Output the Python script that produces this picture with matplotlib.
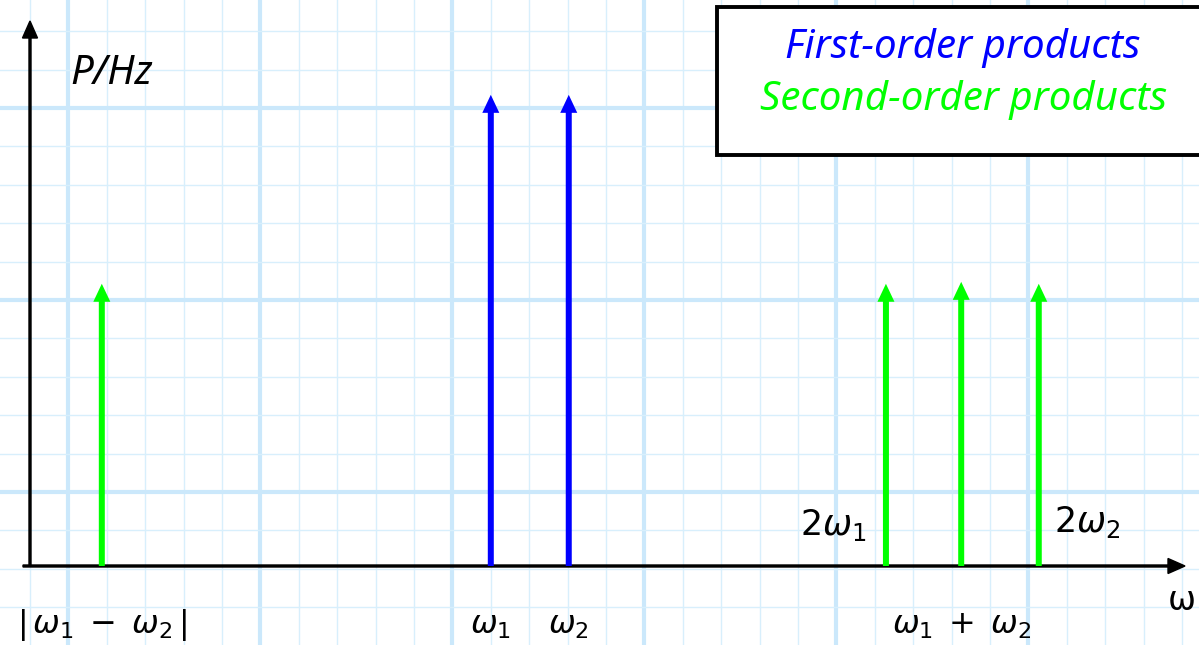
import numpy as np
import matplotlib
matplotlib.use("Agg")
import matplotlib.pyplot as plt
from matplotlib.patches import Rectangle

# Spectrum lines (x in grid squares from the power axis, height in grid squares)
names = ["|w1-w2|", "w1", "w2", "2w1", "w1+w2", "2w2"]
freqs = [1.87, 12.0, 14.03, 22.29, 24.25, 26.27]
powers = [7.35, 12.27, 12.27, 7.35, 7.4, 7.35]
orders = [2, 1, 1, 2, 2, 2]

below_labels = [r"$|\,\omega_1\;-\;\omega_2\,|$", r"$\omega_1$", r"$\omega_2$", "",
                r"$\omega_1\;+\;\omega_2$", ""]
side_labels = ["", "", "", r"$2\omega_1$", "", r"$2\omega_2$"]

colors = {1: "#0000ff", 2: "#00ff00"}
legend_text = {1: "First-order products", 2: "Second-order products"}

plt.rcParams["mathtext.fontset"] = "dejavusans"

W, H, px = 1199, 645, 38.4
x0, y0 = 30, 566   # axis origin in pixels

fig = plt.figure(figsize=(W / 100, H / 100), dpi=100)
ax = fig.add_axes([0, 0, 1, 1])
ax.set_xlim(-x0 / px, (W - x0) / px)
ax.set_ylim(-(H - y0) / px, y0 / px)

# graph-paper grid
yoff = (y0 - 492) / px
xs = np.arange(-1, 32) + 0.0
ys = np.arange(-3, 16) + yoff - 2
for i, gx in enumerate(xs):
    major = (i - 2) % 5 == 0
    ax.axvline(gx, color="#cbe8fb" if major else "#d8effc", lw=3.0 if major else 1.0, zorder=0)
for gy in ys:
    major = abs(((gy - yoff) / 5) - round((gy - yoff) / 5)) < 1e-6
    ax.axhline(gy, color="#cbe8fb" if major else "#d8effc", lw=3.0 if major else 1.0, zorder=0)

# axes arrows
ax.arrow(-7 / px, 0, (1185 - 23) / px, 0, width=2 / px, head_width=15 / px, head_length=17 / px,
         length_includes_head=True, color="black", zorder=3)
ax.arrow(0, 0, 0, (y0 - 21) / px, width=2 / px, head_width=15 / px, head_length=17 / px,
         length_includes_head=True, color="black", zorder=3)

# spectral lines
for f, p, o in zip(freqs, powers, orders):
    ax.arrow(f, 0, 0, p, width=6 / px, head_width=17 / px, head_length=18 / px,
             length_includes_head=True, color=colors[o], lw=0, zorder=4)

for f, lab in zip(freqs, below_labels):
    if lab:
        ax.text(f, -1.54, lab, ha="center", va="center", fontsize=23, zorder=5)

ax.text(freqs[3] - 0.5, 1.07, side_labels[3], ha="right", va="center", fontsize=25, zorder=5)
ax.text(freqs[5] + 0.4, 1.15, side_labels[5], ha="left", va="center", fontsize=25, zorder=5)

ax.text(1.04, 12.8, "P/Hz", ha="left", va="center", fontsize=29, style="italic",
        family="Noto Sans", zorder=5)
ax.text(29.98, -0.9, r"$\mathrm{\omega}$", ha="center", va="center", fontsize=24,
        family="DejaVu Serif", zorder=5)

# legend box
box_left = (717 - x0) / px
box_top = (y0 - 7) / px
box_bot = (y0 - 155) / px
ax.add_patch(Rectangle((box_left, box_bot), 20, box_top - box_bot, facecolor="white",
                       edgecolor="black", lw=2.8, zorder=6))
ax.text(24.3, 13.49, legend_text[1], color=colors[1], ha="center", va="center",
        fontsize=29, style="italic", family="Noto Sans", zorder=7)
ax.text(24.3, 12.14, legend_text[2], color=colors[2], ha="center", va="center",
        fontsize=29, style="italic", family="Noto Sans", zorder=7)

ax.axis("off")
fig.savefig("out.png", dpi=100)
